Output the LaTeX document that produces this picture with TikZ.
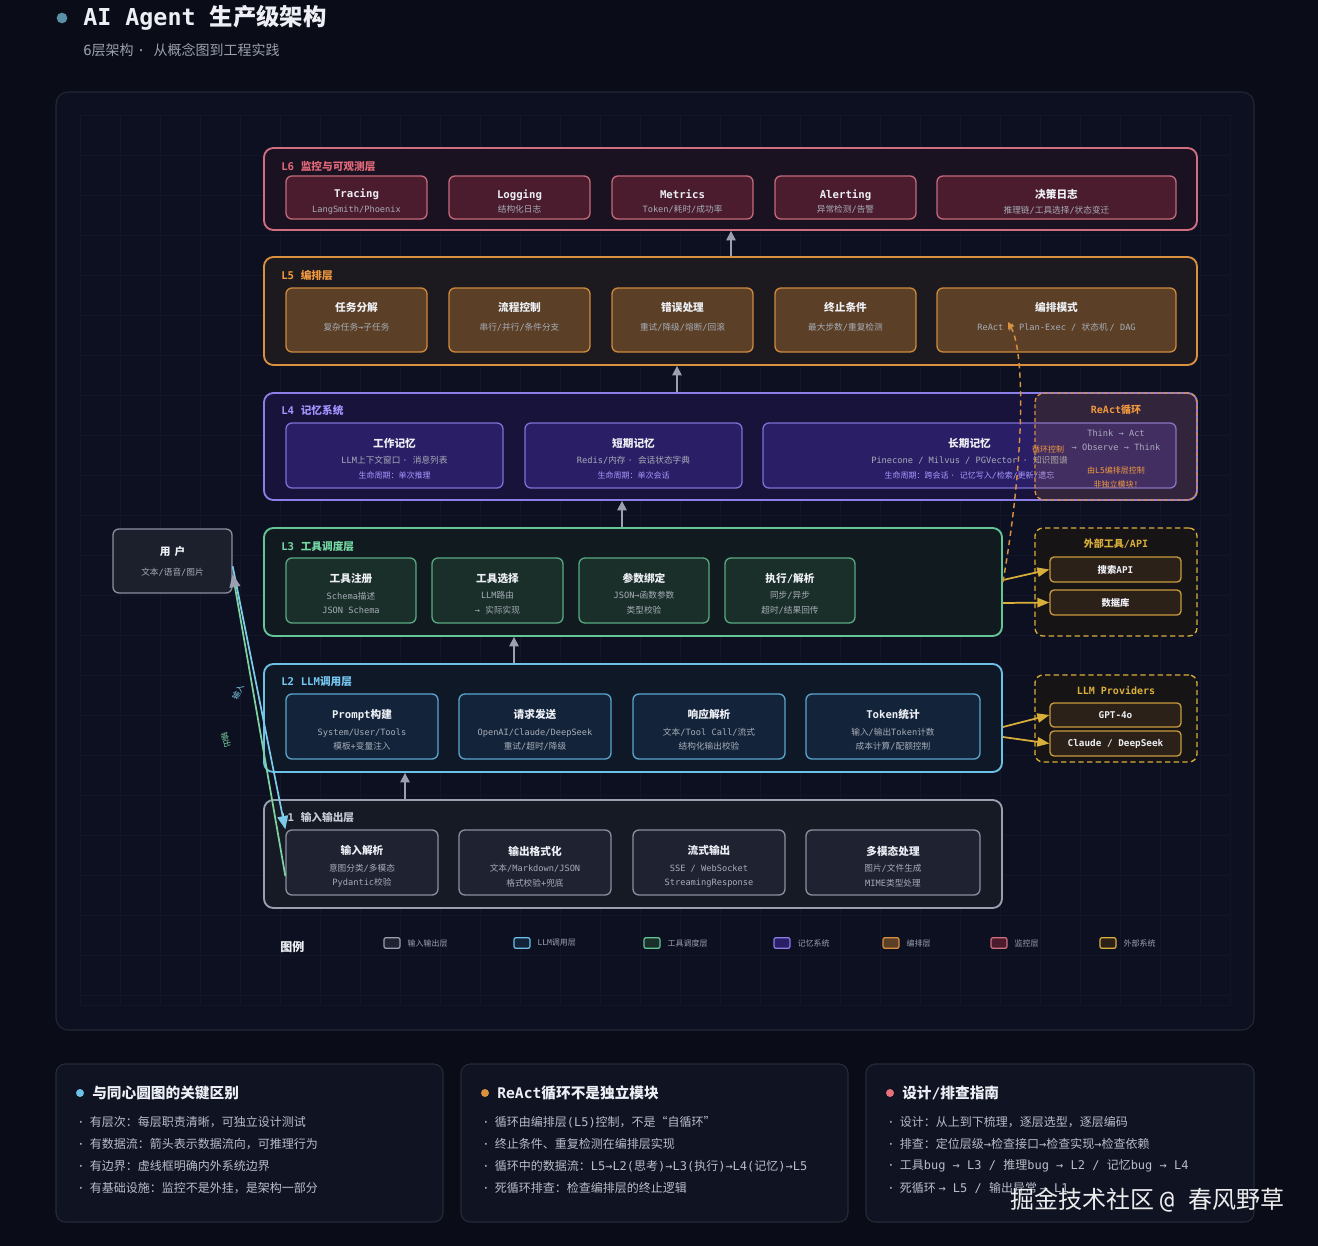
\documentclass[tikz,border=0pt]{standalone}
\usepackage{fontspec}
\setmainfont{DejaVu Sans Mono}
\newfontfamily\cjkfam{Noto Sans CJK SC}
\newfontfamily\latfam{DejaVu Sans Mono}
\usetikzlibrary{arrows.meta, positioning}

% han characters take the CJK face, everything else the mono face
\XeTeXinterchartokenstate=1
\newXeTeXintercharclass\hanclass
\newcount\hanc
\newcommand\sethan[2]{\hanc=#1\relax
  \loop\XeTeXcharclass\hanc=\hanclass
  \ifnum\hanc<#2\relax\advance\hanc by 1\repeat}
\sethan{"3000}{"303F}
\sethan{"4E00}{"9FFF}
\sethan{"FF00}{"FFEF}
\sethan{"201C}{"201D}
\XeTeXinterchartoks 0 \hanclass = {\cjkfam}
\XeTeXinterchartoks 4095 \hanclass = {\cjkfam}
\XeTeXinterchartoks \hanclass 0 = {\latfam}
\XeTeXinterchartoks 4095 0 = {\latfam}

\definecolor{bgdark}{HTML}{0A0C17}
\definecolor{panel}{HTML}{0D1020}
\definecolor{panelline}{HTML}{232838}
\definecolor{gridline}{HTML}{121628}
\definecolor{titledot}{HTML}{5A8FA8}
\definecolor{txtmain}{HTML}{EDEFF5}
\definecolor{txtgray}{HTML}{9AA0AE}
\definecolor{subgray}{HTML}{A7ACB8}
\definecolor{lifetext}{HTML}{A898FF}
\definecolor{lsix}{HTML}{D06F80}
\definecolor{lsixbg}{HTML}{1A1221}
\definecolor{lsixcell}{HTML}{4A1C2D}
\definecolor{lsixline}{HTML}{C46A7B}
\definecolor{lsixtag}{HTML}{E2697A}
\definecolor{lfive}{HTML}{D9903F}
\definecolor{lfivebg}{HTML}{1C1A1E}
\definecolor{lfivecell}{HTML}{5B4027}
\definecolor{lfiveline}{HTML}{CF893D}
\definecolor{lfivetag}{HTML}{F0993F}
\definecolor{lfour}{HTML}{8B7EE6}
\definecolor{lfourbg}{HTML}{17133A}
\definecolor{lfourcell}{HTML}{2A1F66}
\definecolor{lfourline}{HTML}{7E6FD6}
\definecolor{lfourtag}{HTML}{A293FF}
\definecolor{lthree}{HTML}{64C596}
\definecolor{lthreebg}{HTML}{111B1F}
\definecolor{lthreecell}{HTML}{1A2F29}
\definecolor{lthreeline}{HTML}{58A981}
\definecolor{lthreetag}{HTML}{74D9A4}
\definecolor{ltwo}{HTML}{6DC0E6}
\definecolor{ltwobg}{HTML}{0F1826}
\definecolor{ltwocell}{HTML}{13243A}
\definecolor{ltwoline}{HTML}{5AA6CD}
\definecolor{ltwotag}{HTML}{76C8F2}
\definecolor{lone}{HTML}{9AA0B0}
\definecolor{lonebg}{HTML}{161A25}
\definecolor{lonecell}{HTML}{1E2231}
\definecolor{loneline}{HTML}{8A90A0}
\definecolor{lonetag}{HTML}{C5C9D5}
\definecolor{lext}{HTML}{D9AF3A}
\definecolor{extfill}{HTML}{171416}
\definecolor{extcellfill}{HTML}{2C2119}
\definecolor{extline}{HTML}{C8993D}
\definecolor{userline}{HTML}{8A8FA0}
\definecolor{userfill}{HTML}{1C1F2C}
\definecolor{inblue}{HTML}{7CCBEA}
\definecolor{outgreen}{HTML}{7DD3A0}
\definecolor{reactgray}{HTML}{A8ACC0}
\definecolor{bullettext}{HTML}{B9BDC9}
\definecolor{cardfill}{HTML}{0F1322}
\definecolor{cardline}{HTML}{262B3A}
\definecolor{dotred}{HTML}{E8707A}

\newcommand\celltitle[1]{{\fontsize{8}{11}\selectfont\bfseries\color{txtmain}#1}}
\newcommand\cellsub[1]{{\color{subgray}#1}}
\newcommand\celllife[1]{{\fontsize{6}{11}\selectfont\color{lifetext}#1}}

\begin{document}
\begin{tikzpicture}[x=0.75pt, y=-0.75pt,
    sz/.style 2 args={minimum width=#1*0.75pt, minimum height=#2*0.75pt},
    layerbox/.style={draw, rounded corners=7pt, line width=1.4pt, inner sep=0pt},
    layertag/.style={anchor=west, inner sep=0pt, font=\fontsize{8}{10}\selectfont\bfseries},
    cell/.style={draw, rounded corners=4.5pt, line width=1pt, inner sep=0pt, align=center,
        font=\fontsize{6.5}{11}\selectfont},
    celltext/.style={align=center, inner sep=0pt, font=\fontsize{6.5}{11}\selectfont},
    c6/.style={cell, draw=lsixline, fill=lsixcell},
    c5/.style={cell, draw=lfiveline, fill=lfivecell},
    c4/.style={cell, draw=lfourline, fill=lfourcell},
    c3/.style={cell, draw=lthreeline, fill=lthreecell},
    c2/.style={cell, draw=ltwoline, fill=ltwocell},
    c1/.style={cell, draw=loneline, fill=lonecell},
    t6/.style={celltext, yshift=-3pt},
    t5/.style={celltext, yshift=2.25pt},
    t4/.style={celltext, yshift=-2.25pt},
    t3/.style={celltext, yshift=-2.25pt},
    t2/.style={celltext, yshift=-2.6pt},
    t1/.style={celltext, yshift=-3pt},
    uparrow/.style={draw=lone, line width=1.1pt, -{Triangle[length=7pt, width=7pt]}},
    extarrow/.style={draw=lext, line width=1.3pt, -{Triangle[length=9pt, width=7pt]}},
    extbox/.style={draw=lext, dash pattern=on 4pt off 2.5pt, rounded corners=6pt, line width=1pt,
        fill=extfill, inner sep=0pt},
    exttitle/.style={inner sep=0pt, font=\fontsize{7.5}{9}\selectfont\bfseries, text=lext},
    extcell/.style={draw=extline, rounded corners=3pt, line width=1pt, fill=extcellfill, inner sep=0pt,
        font=\fontsize{7}{9}\selectfont\bfseries, text=txtmain},
    swatch/.style={draw, rounded corners=1.5pt, line width=0.9pt, minimum width=12pt,
        minimum height=8pt, inner sep=0pt},
    legtext/.style={inner sep=0pt, font=\fontsize{6}{8}\selectfont, text=txtgray},
    card/.style={draw=cardline, fill=cardfill, rounded corners=7pt, line width=0.8pt, inner sep=0pt},
    cardhead/.style={anchor=west, inner sep=0pt, font=\fontsize{11}{13}\selectfont\bfseries, text=txtmain},
    bullet/.style={anchor=west, inner sep=0pt, font=\fontsize{9}{11}\selectfont, text=bullettext}]

    \fill[bgdark] (0,0) rectangle (1318,1246);
    \useasboundingbox (0,0) rectangle (1318,1246);

    \fill[titledot] (62,18) circle (4pt);
    \node[anchor=west, inner sep=0pt, font=\fontsize{17.5}{20}\selectfont\bfseries, text=txtmain] (title) at (83,18) {AI Agent 生产级架构};
    \node[anchor=west, inner sep=0pt, font=\fontsize{10.5}{12}\selectfont, text=txtgray] (subtitle) at (83,50) {6层架构 · 从概念图到工程实践};

    \draw[draw=panelline, fill=panel, rounded corners=9pt, line width=0.8pt] (56,92) rectangle (1254,1030);
    \foreach \gx in {120,160,...,1200} \draw[gridline, line width=0.4pt] (\gx,116) -- (\gx,1004);
    \foreach \gy in {155,195,...,995} \draw[gridline, line width=0.4pt] (81,\gy) -- (1229,\gy);
    \draw[gridline, line width=0.6pt] (80,115) rectangle (1230,1005);

    % L6
    \node[layerbox, draw=lsix, fill=lsixbg, sz={933}{82}] (l6) at (730.5,189) {};
    \node[layertag, text=lsixtag] (l6tag) at (281,166) {L6\hspace{5pt}监控与可观测层};
    \node[c6, sz={141}{43}, label={[t6]center:{\celltitle{Tracing}\\\cellsub{LangSmith/Phoenix}}}] (tracing) at (356.5,197.5) {};
    \node[c6, sz={141}{43}, label={[t6]center:{\celltitle{Logging}\\\cellsub{结构化日志}}}] (logging) at (519.5,197.5) {};
    \node[c6, sz={141}{43}, label={[t6]center:{\celltitle{Metrics}\\\cellsub{Token/耗时/成功率}}}] (metrics) at (682.5,197.5) {};
    \node[c6, sz={141}{43}, label={[t6]center:{\celltitle{Alerting}\\\cellsub{异常检测/告警}}}] (alerting) at (845.5,197.5) {};
    \node[c6, sz={239}{43}, label={[t6]center:{\celltitle{决策日志}\\\cellsub{推理链/工具选择/状态变迁}}}] (declog) at (1056.5,197.5) {};

    % L5
    \node[layerbox, draw=lfive, fill=lfivebg, sz={933}{108}] (l5) at (730.5,311) {};
    \node[layertag, text=lfivetag] (l5tag) at (281,275) {L5\hspace{5pt}编排层};
    \node[c5, sz={141}{64}, label={[t5]center:{\celltitle{任务分解}\\[3pt]\cellsub{复杂任务→子任务}}}] (split) at (356.5,320) {};
    \node[c5, sz={141}{64}, label={[t5]center:{\celltitle{流程控制}\\[3pt]\cellsub{串行/并行/条件分支}}}] (flowctl) at (519.5,320) {};
    \node[c5, sz={141}{64}, label={[t5]center:{\celltitle{错误处理}\\[3pt]\cellsub{重试/降级/熔断/回滚}}}] (errhdl) at (682.5,320) {};
    \node[c5, sz={141}{64}, label={[t5]center:{\celltitle{终止条件}\\[3pt]\cellsub{最大步数/重复检测}}}] (stopcond) at (845.5,320) {};
    \node[c5, sz={239}{64}, label={[t5]center:{\celltitle{编排模式}\\[3pt]\cellsub{ReAct / Plan-Exec / 状态机 / DAG}}}] (pattern) at (1056.5,320) {};

    % L4
    \node[layerbox, draw=lfour, fill=lfourbg, sz={933}{107}] (l4) at (730.5,446.5) {};
    \node[layertag, text=lfourtag] (l4tag) at (281,410) {L4\hspace{5pt}记忆系统};
    \node[c4, sz={217}{65}, label={[t4]center:{\celltitle{工作记忆}\\[1.5pt]\cellsub{LLM上下文窗口 · 消息列表}\\\celllife{生命周期：单次推理}}}] (workmem) at (394.5,455.5) {};
    \node[c4, sz={217}{65}, label={[t4]center:{\celltitle{短期记忆}\\[1.5pt]\cellsub{Redis/内存 · 会话状态字典}\\\celllife{生命周期：单次会话}}}] (shortmem) at (633.5,455.5) {};
    \node[c4, sz={413}{65}, label={[t4]center:{\celltitle{长期记忆}\\[1.5pt]\cellsub{Pinecone / Milvus / PGVector · 知识图谱}\\\celllife{生命周期：跨会话 · 记忆写入/检索/更新/遗忘}}}] (longmem) at (969.5,455.5) {};

    \node[draw=lfive, dash pattern=on 3pt off 2pt, line width=1pt, rounded corners=7pt, fill=lfive, fill opacity=0.14, sz={162}{107}] (react) at (1116,446.5) {};
    \node[inner sep=0pt, font=\fontsize{7.5}{9}\selectfont\bfseries, text=lfivetag] (reacttitle) at (1116,410) {ReAct循环};
    \node[inner sep=0pt, align=center, font=\fontsize{6.5}{10.5}\selectfont, text=reactgray] (reactsteps) at (1116,440) {Think → Act\\→ Observe → Think};
    \node[inner sep=0pt, align=center, font=\fontsize{6}{10}\selectfont, text=lfivetag] (reactnote) at (1116,477.5) {由L5编排层控制\\非独立模块!};

    % L3
    \node[layerbox, draw=lthree, fill=lthreebg, sz={738}{108}] (l3) at (633,582) {};
    \node[layertag, text=lthreetag] (l3tag) at (281,546) {L3\hspace{5pt}工具调度层};
    \node[c3, sz={130}{65}, label={[t3]center:{\celltitle{工具注册}\\[1.5pt]\cellsub{Schema描述}\\\cellsub{JSON Schema}}}] (toolreg) at (351,590.5) {};
    \node[c3, sz={131}{65}, label={[t3]center:{\celltitle{工具选择}\\[1.5pt]\cellsub{LLM路由}\\\cellsub{→ 实际实现}}}] (toolsel) at (497.5,590.5) {};
    \node[c3, sz={130}{65}, label={[t3]center:{\celltitle{参数绑定}\\[1.5pt]\cellsub{JSON→函数参数}\\\cellsub{类型校验}}}] (argbind) at (644,590.5) {};
    \node[c3, sz={130}{65}, label={[t3]center:{\celltitle{执行/解析}\\[1.5pt]\cellsub{同步/异步}\\\cellsub{超时/结果回传}}}] (execparse) at (790,590.5) {};

    \node[extbox, sz={162}{108}] (exttools) at (1116,582) {};
    \node[exttitle] (exttoolstitle) at (1116,544) {外部工具/API};
    \node[extcell, sz={131}{25}] (searchapi) at (1115.5,569.5) {搜索API};
    \node[extcell, sz={131}{25}] (database) at (1115.5,602.5) {数据库};

    \node[cell, draw=userline, fill=userfill, sz={119}{64}] (user) at (172.5,561) {\celltitle{用\hspace{3pt}户}\\[4pt]\cellsub{文本/语音/图片}};

    % L2
    \node[layerbox, draw=ltwo, fill=ltwobg, sz={738}{108}] (l2) at (633,718) {};
    \node[layertag, text=ltwotag] (l2tag) at (281,682) {L2\hspace{5pt}LLM调用层};
    \node[c2, sz={152}{65}, label={[t2]center:{\celltitle{Prompt构建}\\[1.5pt]\cellsub{System/User/Tools}\\\cellsub{模板+变量注入}}}] (promptbuild) at (362,726.5) {};
    \node[c2, sz={152}{65}, label={[t2]center:{\celltitle{请求发送}\\[1.5pt]\cellsub{OpenAI/Claude/DeepSeek}\\\cellsub{重试/超时/降级}}}] (reqsend) at (535,726.5) {};
    \node[c2, sz={152}{65}, label={[t2]center:{\celltitle{响应解析}\\[1.5pt]\cellsub{文本/Tool Call/流式}\\\cellsub{结构化输出校验}}}] (respparse) at (709,726.5) {};
    \node[c2, sz={174}{65}, label={[t2]center:{\celltitle{Token统计}\\[1.5pt]\cellsub{输入/输出Token计数}\\\cellsub{成本计算/配额控制}}}] (tokenstat) at (893,726.5) {};

    \node[extbox, sz={162}{87}] (providers) at (1116,718.5) {};
    \node[exttitle] (providerstitle) at (1116,690) {LLM Providers};
    \node[extcell, sz={131}{24}] (gpt) at (1115.5,715) {GPT-4o};
    \node[extcell, sz={131}{25}] (claude) at (1115.5,743.5) {Claude / DeepSeek};

    % L1
    \node[layerbox, draw=lone, fill=lonebg, sz={738}{108}] (l1) at (633,854) {};
    \node[layertag, text=lonetag] (l1tag) at (281,817) {L1\hspace{5pt}输入输出层};
    \node[c1, sz={152}{65}, label={[t1]center:{\celltitle{输入解析}\\[1.5pt]\cellsub{意图分类/多模态}\\\cellsub{Pydantic校验}}}] (inparse) at (362,862.5) {};
    \node[c1, sz={152}{65}, label={[t1]center:{\celltitle{输出格式化}\\[1.5pt]\cellsub{文本/Markdown/JSON}\\\cellsub{格式校验+兜底}}}] (outfmt) at (535,862.5) {};
    \node[c1, sz={152}{65}, label={[t1]center:{\celltitle{流式输出}\\[1.5pt]\cellsub{SSE / WebSocket}\\\cellsub{StreamingResponse}}}] (streamout) at (709,862.5) {};
    \node[c1, sz={174}{65}, label={[t1]center:{\celltitle{多模态处理}\\[1.5pt]\cellsub{图片/文件生成}\\\cellsub{MIME类型处理}}}] (multimodal) at (893,862.5) {};

    \coordinate (up12) at (405,0);
    \coordinate (up23) at (514,0);
    \coordinate (up34) at (622,0);
    \coordinate (up45) at (677,0);
    \coordinate (up56) at (731,0);
    \draw[uparrow] (l1.north -| up12) -- (l2.south -| up12);
    \draw[uparrow] (l2.north -| up23) -- (l3.south -| up23);
    \draw[uparrow] (l3.north -| up34) -- (l4.south -| up34);
    \draw[uparrow] (l4.north -| up45) -- (l5.south -| up45);
    \draw[uparrow] (l5.north -| up56) -- (l6.south -| up56);

    \draw[extarrow] ([yshift=1.5pt]l3.east) -- (searchapi.west);
    \draw[extarrow] ([yshift=-15.75pt]l3.east) -- (database.west);
    \draw[extarrow] ([yshift=-6.75pt]l2.east) -- (gpt.west);
    \draw[extarrow] ([yshift=-14.25pt]l2.east) -- (claude.west);

    \coordinate (reacttip) at (1008,322);
    \draw[draw=lfive, dash pattern=on 4pt off 3pt, line width=1.1pt, -{Triangle[length=5pt, width=5pt]}]
        (l3.east) .. controls (1026,450) and (1024,350) .. (reacttip);
    \node[inner sep=0pt, font=\fontsize{6}{8}\selectfont, text=lfivetag] (looplabel) at (1048,449) {循环控制};

    \draw[draw=inblue, line width=1.3pt, -{Triangle[length=10pt, width=8pt]}] (user.-5) -- (inparse.north west);
    \draw[draw=outgreen, line width=1.3pt, -{Triangle[length=10pt, width=8pt, color=lone]}] (inparse.190) -- (user.-12);
    \node[inner sep=0pt, rotate=65, font=\fontsize{6}{7}\selectfont, text=inblue] (inlabel) at (238,692) {输入};
    \node[inner sep=0pt, rotate=-75, font=\fontsize{6}{7}\selectfont, text=outgreen] (outlabel) at (226,740) {输出};

    % legend
    \node[anchor=west, inner sep=0pt, font=\fontsize{9}{11}\selectfont\bfseries, text=txtmain] (legendhead) at (280,947) {图例};
    \foreach \sx/\col/\fil/\txt [count=\k] in {392/lone/lonecell/输入输出层, 522/ltwo/ltwocell/LLM调用层,
        652/lthree/lthreecell/工具调度层, 782/lfour/lfourcell/记忆系统, 891/lfive/lfivecell/编排层,
        999/lsix/lsixcell/监控层, 1108/lext/extcellfill/外部系统} {
        \node[swatch, draw=\col, fill=\fil] (sw\k) at (\sx,943) {};
        \node[legtext, right=5pt of sw\k] (swlabel\k) {\txt};
    }

    % notes
    \node[card, sz={387}{158}] (card1) at (249.5,1143) {};
    \node[card, sz={387}{158}] (card2) at (654.5,1143) {};
    \node[card, sz={388}{158}] (card3) at (1060,1143) {};
    \fill[ltwo] (80,1093) circle (3pt);
    \fill[lfive] (485,1093) circle (3pt);
    \fill[dotred] (890,1093) circle (3pt);
    \node[cardhead] (head1) at (92,1093) {与同心圆图的关键区别};
    \node[cardhead] (head2) at (497,1093) {ReAct循环不是独立模块};
    \node[cardhead] (head3) at (902,1093) {设计/排查指南};
    \foreach \txt [count=\k] in {有层次：每层职责清晰，可独立设计测试, 有数据流：箭头表示数据流向，可推理行为,
        有边界：虚线框明确内外系统边界, 有基础设施：监控不是外挂，是架构一部分}
        \node[bullet] (notea\k) at (77,1100+22*\k) {·\hspace{4pt}\txt};
    \foreach \txt [count=\k] in {循环由编排层(L5)控制，不是“自循环”, 终止条件、重复检测在编排层实现,
        循环中的数据流：L5→L2(思考)→L3(执行)→L4(记忆)→L5, 死循环排查：检查编排层的终止逻辑}
        \node[bullet] (noteb\k) at (482,1100+22*\k) {·\hspace{4pt}\txt};
    \foreach \txt [count=\k] in {设计：从上到下梳理，逐层选型，逐层编码, 排查：定位层级→检查接口→检查实现→检查依赖,
        工具bug → L3 / 推理bug → L2 / 记忆bug → L4, 死循环 → L5 / 输出异常 → L1}
        \node[bullet] (notec\k) at (887,1100+22*\k) {·\hspace{4pt}\txt};

    \node[anchor=east, inner sep=0pt, font=\fontsize{18}{20}\selectfont, text=white, opacity=0.92] (watermark) at (1285,1200) {掘金技术社区 @ 春风野草};
\end{tikzpicture}
\end{document}
